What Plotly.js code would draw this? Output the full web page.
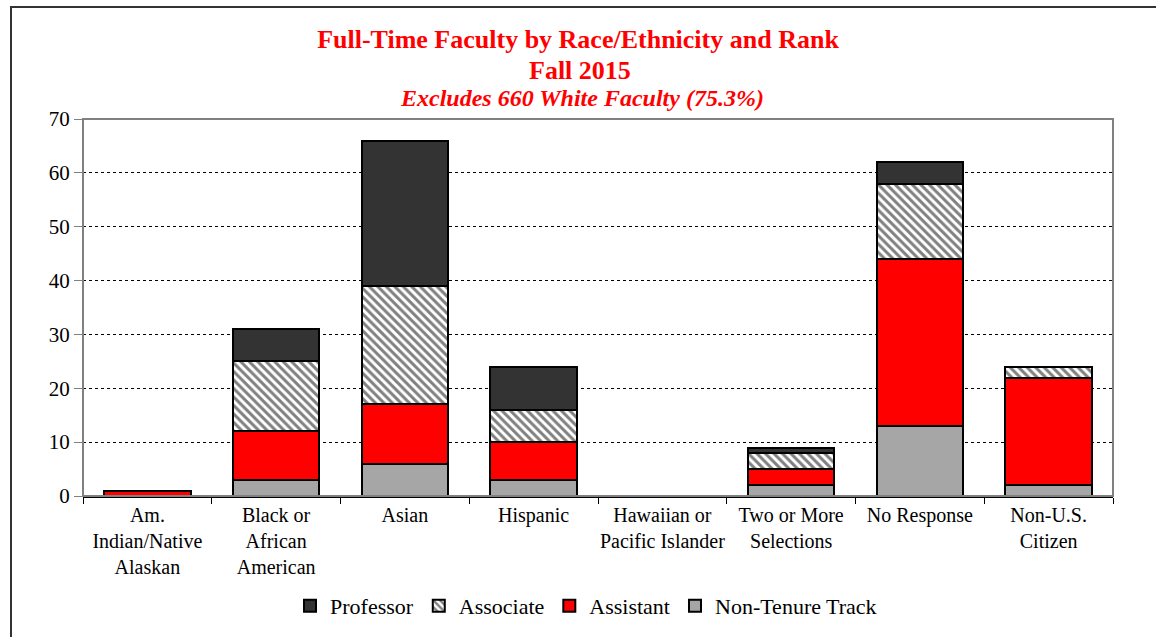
<!DOCTYPE html>
<html><head><meta charset="utf-8">
<script src="https://cdn.plot.ly/plotly-3.0.1.min.js"></script>
<style>
body{margin:0;padding:0;background:#fff;}
#wrap{position:relative;width:1156px;height:637px;}
#chart{width:1156px;height:637px;}
#frame{position:absolute;left:10px;top:6px;right:0;bottom:0;border-left:2px solid #333;border-top:2px solid #333;pointer-events:none;}
</style></head>
<body><div id="wrap"><div id="chart"></div><div id="frame"></div></div>
<script>
const categories = ["Am.<br>Indian/Native<br>Alaskan","Black or<br>African<br>American","Asian","Hispanic","Hawaiian or<br>Pacific Islander","Two or More<br>Selections","No Response","Non-U.S.<br>Citizen"];
const nonTenure = [0,3,6,3,0,2,13,2];
const assistant = [1,9,11,7,0,3,31,20];
const associate = [0,13,22,6,0,3,14,2];
const professor = [0,6,27,8,0,1,4,0];
const yTicks = [0,10,20,30,40,50,60,70];
const titleLines = ["Full-Time Faculty by Race/Ethnicity and Rank", "Fall 2015", "Excludes 660 White Faculty (75.3%)"];

const fam = '"Liberation Serif","Times New Roman",serif';
const line = {color:'#000', width:2};
const traces = [
  {type:'bar', name:'Non-Tenure Track', x:categories, y:nonTenure, marker:{color:'#a6a6a6', line:line}},
  {type:'bar', name:'Assistant', x:categories, y:assistant, marker:{color:'#ff0000', line:line}},
  {type:'bar', name:'Associate', x:categories, y:associate, marker:{color:'#ffffff', line:line, pattern:{shape:'\\', fgcolor:'#808080', bgcolor:'#ffffff', size:6, solidity:0.5}}},
  {type:'bar', name:'Professor', x:categories, y:professor, marker:{color:'#333333', line:line}}
];
const layout = {
  width:1156, height:637,
  margin:{l:83, r:43, t:119, b:141, autoexpand:false},
  paper_bgcolor:'#fff', plot_bgcolor:'#fff',
  barmode:'stack', bargap:0.33,
  font:{family:fam, size:20, color:'#000'},
  title:{text:'<b>'+titleLines[0]+'</b>', font:{family:fam, size:26, color:'#ff0000'},
    x:0.5, xanchor:'center', xref:'container', y:1-39/637, yanchor:'middle', yref:'container'},
  annotations:[
    {text:'<b>'+titleLines[1]+'</b>', xref:'paper', yref:'paper', x:(580-83)/1030, y:(496-70)/377, xanchor:'center', yanchor:'middle', showarrow:false,
      font:{family:fam, size:26, color:'#ff0000'}},
    {text:'<b><i>'+titleLines[2]+'</i></b>', xref:'paper', yref:'paper', x:(582-83)/1030, y:(496-98)/377, xanchor:'center', yanchor:'middle', showarrow:false,
      font:{family:fam, size:24, color:'#ff0000'}}
  ],
  xaxis:{showline:true, linecolor:'#000', linewidth:2, ticks:'outside', tickson:'boundaries', ticklen:6, tickcolor:'#000', tickangle:0, automargin:false,
    tickfont:{family:fam, size:20, color:'#000'}, showgrid:false, fixedrange:true},
  yaxis:{range:[0,70], tickvals:yTicks, showline:false, ticks:'outside', ticklen:8, tickcolor:'#808080', automargin:false,
    tickfont:{family:fam, size:21, color:'#000'}, showgrid:true, gridcolor:'#000', griddash:'dot', gridwidth:1, zeroline:false, fixedrange:true},
  legend:{orientation:'h', x:(586-83)/1030, xanchor:'center', y:(496-606)/377, yanchor:'middle', traceorder:'reversed',
    font:{family:fam, size:22, color:'#000'}, itemwidth:30, itemclick:false},
  shapes:[{type:'rect', xref:'paper', yref:'paper', x0:0, x1:1, y0:0, y1:1, line:{color:'#808080', width:2}, layer:'above'}],
  showlegend:true
};
Plotly.newPlot('chart', traces, layout, {displayModeBar:false, staticPlot:true});
</script></body></html>
